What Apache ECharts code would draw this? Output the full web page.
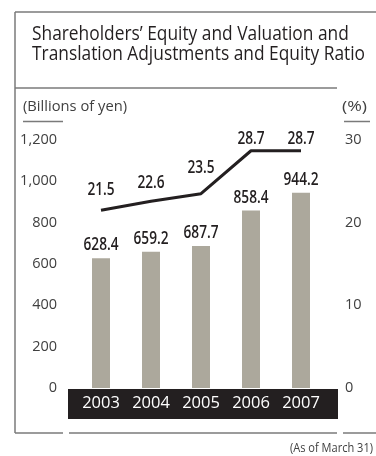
<!DOCTYPE html>
<html>
<head>
<meta charset="utf-8">
<script src="https://cdn.jsdelivr.net/npm/echarts@6/dist/echarts.min.js"></script>
<style>
  html, body { margin: 0; padding: 0; background: #fff; }
  #chart { width: 376px; height: 456px; }
</style>
</head>
<body>
<div id="chart"></div>
<script>
// Fiscal years (as of March 31)
const years = ['2003', '2004', '2005', '2006', '2007'];
// Shareholders' equity and valuation and translation adjustments (billions of yen)
const equity = [628.4, 659.2, 687.7, 858.4, 944.2];
// Equity ratio (%)
const equityRatio = [21.5, 22.6, 23.5, 28.7, 28.7];
// Axis tick ranges
const leftAxis = { min: 0, max: 1200, step: 200 };
const rightAxis = { min: 0, max: 30, step: 10 };

const FAMILY = "'Open Sans', 'Noto Sans', sans-serif";
const INK = '#231f20';
const GREY_TEXT = '#404040';
const RULE = '#7a7a7a';

// vertical offset of each value label's centre from its data point
const barLabelShift = -13;
const ratioLabelShift = [-20, -18, -26, -12, -12];
const VALUE_FONT = '600 18px ' + FAMILY;
const VALUE_SQUEEZE = 0.76;

// text measurement, used to squeeze wide captions into a condensed look
const measureCtx = document.createElement('canvas').getContext('2d');
function textWidth(str, font) {
  measureCtx.font = font;
  return measureCtx.measureText(str).width;
}

const chart = echarts.init(document.getElementById('chart'), null, { renderer: 'canvas' });

const hLine = (x1, x2, y) => ({
  type: 'line', silent: true, z: 1,
  shape: { x1: x1, y1: y, x2: x2, y2: y },
  style: { stroke: RULE, lineWidth: 1.5 }
});

// a text caption compressed horizontally to a given width
function caption(text, font, left, top, width, fill) {
  return {
    type: 'text', silent: true, z: 2,
    x: left, y: top,
    scaleX: width / textWidth(text, font),
    style: { text: text, font: font, fill: fill, align: 'left', verticalAlign: 'top' }
  };
}

const TITLE_FONT = '20px ' + FAMILY;
const titleLines = [
  "Shareholders\u2019 Equity and Valuation and",
  'Translation Adjustments and Equity Ratio'
];
const titleScale = 333 / textWidth(titleLines[1], TITLE_FONT);

// value labels drawn at data coordinates with a condensed squeeze
function valueLabelSeries(values, yAxisIndex, shiftOf) {
  return {
    type: 'custom',
    yAxisIndex: yAxisIndex,
    z: 6,
    silent: true,
    data: values.map((v, i) => [i, v]),
    renderItem: (params, api) => {
      const i = api.value(0);
      const v = api.value(1);
      const pt = api.coord([i, v]);
      return {
        type: 'text',
        x: pt[0],
        y: pt[1] + shiftOf(i),
        scaleX: VALUE_SQUEEZE,
        style: {
          text: v.toFixed(1), font: VALUE_FONT, fill: INK,
          align: 'center', verticalAlign: 'middle'
        }
      };
    }
  };
}

chart.setOption({
  animation: false,
  backgroundColor: '#fff',
  grid: { left: 76, right: 50, top: 140, bottom: 68, containLabel: false },
  xAxis: {
    type: 'category',
    data: years,
    z: 10,
    axisLine: { show: false },
    axisTick: { show: false },
    axisLabel: {
      interval: 0, color: '#fff', fontFamily: FAMILY, fontSize: 16.5, margin: 7
    }
  },
  yAxis: [
    {
      type: 'value',
      min: leftAxis.min, max: leftAxis.max, interval: leftAxis.step,
      splitLine: { show: false },
      axisLine: { show: false },
      axisTick: { show: false },
      axisLabel: {
        color: GREY_TEXT, fontFamily: FAMILY, fontSize: 14.5, margin: 19,
        formatter: v => v.toLocaleString('en-US')
      }
    },
    {
      type: 'value',
      position: 'right',
      min: rightAxis.min, max: rightAxis.max, interval: rightAxis.step,
      splitLine: { show: false },
      axisLine: { show: false },
      axisTick: { show: false },
      axisLabel: {
        color: GREY_TEXT, fontFamily: FAMILY, fontSize: 14.5, margin: 19
      }
    }
  ],
  series: [
    {
      name: 'Equity',
      type: 'bar',
      data: equity,
      barWidth: 18,
      itemStyle: { color: '#aca89c' }
    },
    {
      name: 'Equity ratio',
      type: 'line',
      yAxisIndex: 1,
      data: equityRatio,
      symbol: 'none',
      lineStyle: { color: INK, width: 3 },
      z: 5
    },
    valueLabelSeries(equity, 0, () => barLabelShift),
    valueLabelSeries(equityRatio, 1, i => ratioLabelShift[i])
  ],
  graphic: [
    // frame rules
    {
      type: 'line', silent: true, z: 1,
      shape: { x1: 15, y1: 12, x2: 15, y2: 433 },
      style: { stroke: RULE, lineWidth: 1.5 }
    },
    hLine(15, 376, 12),
    hLine(15, 337, 88),
    hLine(15, 63, 433),
    hLine(69, 337, 433),
    hLine(343, 376, 433),
    // heading
    {
      type: 'text', silent: true, z: 2,
      x: 32, y: 24,
      scaleX: titleScale,
      style: {
        text: titleLines.join('\n'), font: TITLE_FONT, fill: INK,
        lineHeight: 20, align: 'left', verticalAlign: 'top'
      }
    },
    // unit captions with underlines
    caption('(Billions of yen)', '15px ' + FAMILY, 23, 99, 104, GREY_TEXT),
    hLine(23, 63, 121.5),
    caption('(%)', '15px ' + FAMILY, 342, 99, 25, GREY_TEXT),
    hLine(344, 370, 121.5),
    // dark band behind the year labels
    {
      type: 'rect', silent: true, z: 1,
      shape: { x: 68, y: 389, width: 270, height: 30 },
      style: { fill: INK }
    },
    caption('(As of March 31)', '13px ' + FAMILY, 290, 442, 83, GREY_TEXT)
  ]
});
</script>
</body>
</html>
